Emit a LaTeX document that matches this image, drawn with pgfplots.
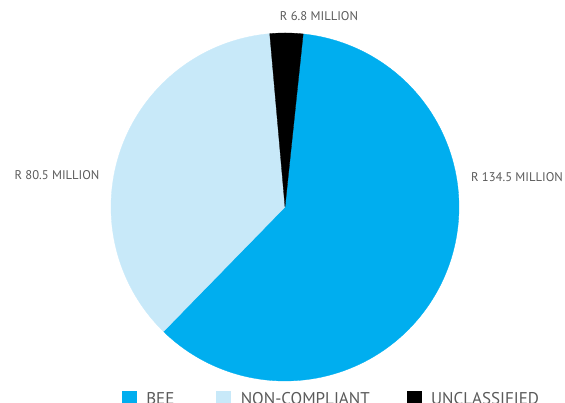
\documentclass[border=0pt]{standalone}
\usepackage{fontspec}
\setmainfont{PT Sans}
\usepackage{pgfplots}
\usepackage{pgfplotstable}
\pgfplotsset{compat=1.18}
\definecolor{bee}{HTML}{00AEEF}
\definecolor{noncomp}{HTML}{C8E9F9}
\definecolor{txt}{HTML}{5A5A5A}
\pgfplotstableread{
label value
BEE 134.5
NONCOMPLIANT 80.5
UNCLASSIFIED 6.8
}\piedata
\begin{document}
\begin{tikzpicture}
\pgfplotstablegetelem{0}{value}\of\piedata \let\vA\pgfplotsretval
\pgfplotstablegetelem{1}{value}\of\piedata \let\vB\pgfplotsretval
\pgfplotstablegetelem{2}{value}\of\piedata \let\vC\pgfplotsretval
\pgfmathsetmacro{\tot}{\vA+\vB+\vC}
\pgfmathsetmacro{\start}{84}
\pgfmathsetmacro{\aBeeLo}{\start-360*(\vA/\tot)}
\pgfmathsetmacro{\aUnHi}{\start+360*(\vC/\tot)}
\pgfmathsetmacro{\aNcHi}{\aUnHi+360*(\vB/\tot)}
\begin{axis}[
  scale only axis, width=565pt, height=403pt,
  xmin=-285, xmax=280, ymin=-196, ymax=207,
  hide axis, clip=false,
  legend columns=3,
  legend image code/.code={\fill[#1] (0pt,-7pt) rectangle (14pt,7pt);},
  legend style={at={(axis cs:-163,-191)}, anchor=west, draw=none, fill=none,
    inner sep=0pt, outer sep=0pt,
    font=\fontsize{17}{17}\selectfont, text=txt,
    nodes={inner sep=0pt, text depth=0pt},
    /tikz/every odd column/.style={column sep=10pt},
    /tikz/column 2/.style={column sep=42pt},
    /tikz/column 4/.style={column sep=37pt}},
]
\addplot[fill=bee, draw=bee, line width=0.3pt, domain=\aBeeLo:\start, samples=120, variable=\t]
  ({174*cos(\t)},{174*sin(\t)}) -- (axis cs:0,0) -- cycle;
\addlegendentry{BEE}
\addplot[fill=noncomp, draw=noncomp, line width=0.3pt, domain=\aUnHi:\aNcHi, samples=80, variable=\t]
  ({174*cos(\t)},{174*sin(\t)}) -- (axis cs:0,0) -- cycle;
\addlegendentry{NON-COMPLIANT}
\addplot[fill=black, draw=black, line width=0.3pt, domain=\start:\aUnHi, samples=20, variable=\t]
  ({174*cos(\t)},{174*sin(\t)}) -- (axis cs:0,0) -- cycle;
\addlegendentry{UNCLASSIFIED}
\node[font=\fontsize{12.6}{12.6}\selectfont, text=txt] at (axis cs:34,191) {R 6.8 MILLION};
\node[font=\fontsize{12.6}{12.6}\selectfont, text=txt] at (axis cs:-228,31.5) {R 80.5 MILLION};
\node[font=\fontsize{12.6}{12.6}\selectfont, text=txt] at (axis cs:232,30.3) {R 134.5 MILLION};
\coordinate (bl) at (axis cs:-285,-196);
\coordinate (tr) at (axis cs:280,207);
\end{axis}
\pgfresetboundingbox
\path (bl) rectangle (tr);
\end{tikzpicture}
\end{document}
